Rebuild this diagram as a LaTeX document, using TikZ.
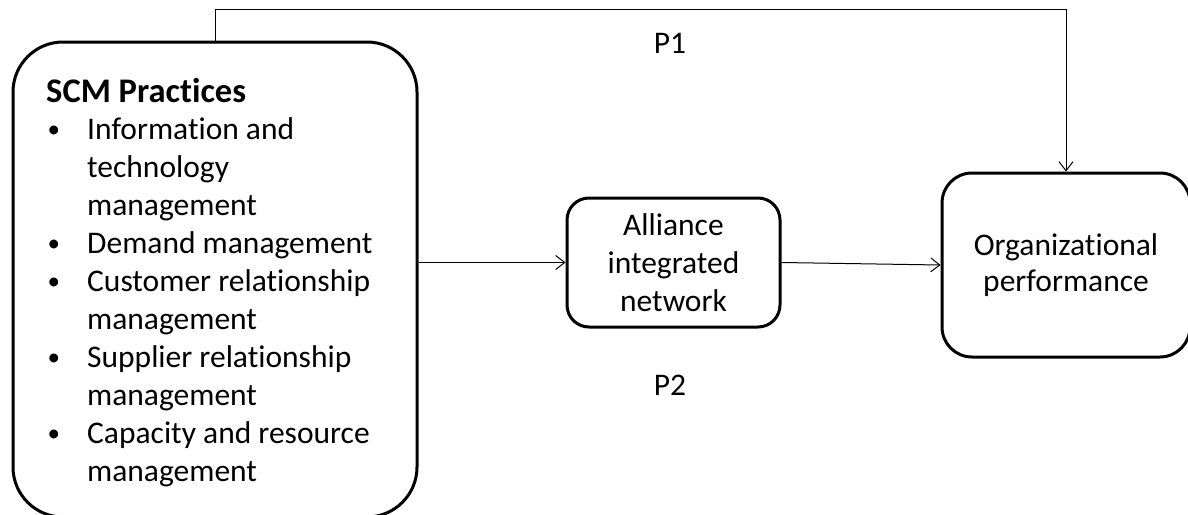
\documentclass[tikz,border=0pt]{standalone}
\usepackage{fontspec}
\setmainfont{Carlito}[Ligatures=NoCommon]
\usetikzlibrary{arrows.meta}
\newcommand{\bul}{\makebox[40pt][l]{\hspace{0.5pt}\raisebox{1.5pt}{\fontsize{25}{25}\selectfont •}}}
\newcommand{\ind}{\hspace*{40pt}}
\tikzset{
  box/.style={draw, line width=3pt, rounded corners=#1, inner sep=0pt},
  conn/.style={line width=1pt, -{Straight Barb[length=9pt,width=14pt,line width=1pt]}},
  big/.style={font=\fontsize{31.5}{38}\selectfont},
  lbl/.style={font=\fontsize{31.5}{38}\selectfont, inner sep=0pt}
}
\begin{document}
\begin{tikzpicture}[x=1pt,y=-1pt]
\clip (0,0) rectangle (1188,514);
\fill[white] (0,0) rectangle (1188,514);
\node[box=50pt, minimum width=404pt, minimum height=475pt] (scm) at (215,279.5) {};
\node[font=\fontsize{34.5}{40}\selectfont\bfseries, anchor=base west, inner sep=0pt] (scmtitle) at (46,102) {SCM Practices};
\node[big, anchor=north west, inner sep=0pt, align=left] (scmtext) at (47,117)
  {\bul Information and\\
   \ind technology\\
   \ind management\\
   \bul Demand management\\
   \bul Customer relationship\\
   \ind management\\
   \bul Supplier relationship\\
   \ind management\\
   \bul Capacity and resource\\
   \ind management};
\node[box=22pt, big, minimum width=213pt, minimum height=129pt, align=center] (ali) at (673.5,262.5)
  {Alliance\\integrated\\network};
\node[box=30pt, font=\fontsize{31.5}{36}\selectfont, minimum width=248pt, minimum height=184pt, align=center] (org) at (1066,265)
  {Organizational\\performance};
\node[lbl] (p1) at (670,43) {P1};
\node[lbl] (p2) at (670,385) {P2};
\draw[conn] (scm.north) -- ++(0,-31) -| (org.north);
\draw[conn] (ali.west -| scm.east) -- (ali.west);
\draw[conn] (ali.east) -- (org.west);
\end{tikzpicture}
\end{document}
